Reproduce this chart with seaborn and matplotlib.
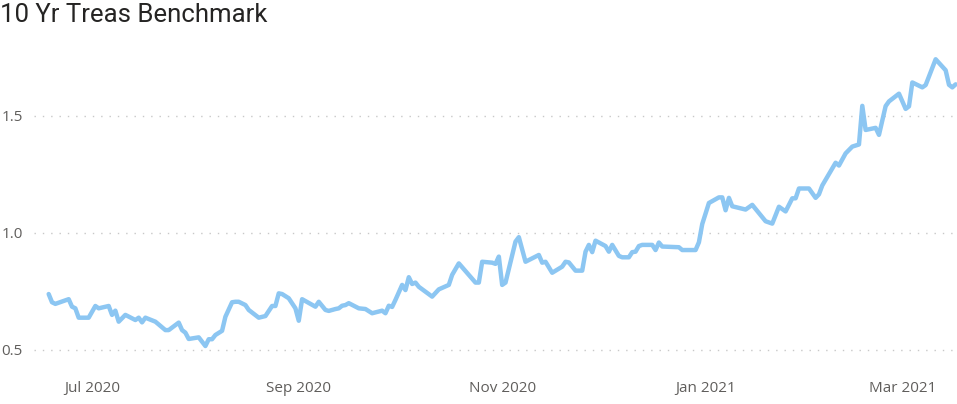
import pandas as pd
import matplotlib
matplotlib.use("Agg")
import matplotlib.pyplot as plt
import seaborn as sns

# Données (rendement du 10 ans, en %)
dates = [
    "2020-06-18", "2020-06-19", "2020-06-20", "2020-06-24", "2020-06-25", "2020-06-26", "2020-06-27", "2020-06-30",
    "2020-07-02", "2020-07-03", "2020-07-06", "2020-07-07", "2020-07-08", "2020-07-09", "2020-07-11", "2020-07-14",
    "2020-07-15", "2020-07-16", "2020-07-17", "2020-07-20", "2020-07-23", "2020-07-24", "2020-07-27", "2020-07-28",
    "2020-07-29", "2020-07-30",
    "2020-08-02", "2020-08-04", "2020-08-05", "2020-08-06", "2020-08-07", "2020-08-09", "2020-08-10", "2020-08-12",
    "2020-08-13", "2020-08-14", "2020-08-16", "2020-08-17", "2020-08-20", "2020-08-22", "2020-08-24", "2020-08-25",
    "2020-08-26", "2020-08-27", "2020-08-29", "2020-08-31",
    "2020-09-01", "2020-09-02", "2020-09-06", "2020-09-07", "2020-09-09", "2020-09-10", "2020-09-12", "2020-09-13",
    "2020-09-14", "2020-09-15", "2020-09-16", "2020-09-19", "2020-09-21", "2020-09-23", "2020-09-26", "2020-09-27",
    "2020-09-28", "2020-09-29", "2020-09-30",
    "2020-10-02", "2020-10-03", "2020-10-04", "2020-10-05", "2020-10-06", "2020-10-07", "2020-10-11", "2020-10-13",
    "2020-10-16", "2020-10-17", "2020-10-19", "2020-10-22", "2020-10-24", "2020-10-25", "2020-10-26", "2020-10-29",
    "2020-10-30", "2020-10-31",
    "2020-11-01", "2020-11-02", "2020-11-05", "2020-11-06", "2020-11-08", "2020-11-12", "2020-11-13", "2020-11-14",
    "2020-11-16", "2020-11-19", "2020-11-20", "2020-11-21", "2020-11-23", "2020-11-25", "2020-11-26", "2020-11-27",
    "2020-11-28", "2020-11-29",
    "2020-12-02", "2020-12-03", "2020-12-04", "2020-12-06", "2020-12-07", "2020-12-09", "2020-12-10", "2020-12-11",
    "2020-12-12", "2020-12-13", "2020-12-16", "2020-12-17", "2020-12-18", "2020-12-19", "2020-12-24", "2020-12-25",
    "2020-12-29", "2020-12-30", "2020-12-31",
    "2021-01-02", "2021-01-05", "2021-01-06", "2021-01-07", "2021-01-08", "2021-01-09", "2021-01-13", "2021-01-15",
    "2021-01-19", "2021-01-21", "2021-01-23", "2021-01-25", "2021-01-27", "2021-01-28", "2021-01-29",
    "2021-02-01", "2021-02-03", "2021-02-04", "2021-02-05", "2021-02-09", "2021-02-10", "2021-02-12", "2021-02-14",
    "2021-02-16", "2021-02-17", "2021-02-18", "2021-02-21", "2021-02-22", "2021-02-24", "2021-02-25", "2021-02-28",
    "2021-03-02", "2021-03-03", "2021-03-04", "2021-03-07", "2021-03-08", "2021-03-11", "2021-03-14", "2021-03-15",
    "2021-03-16", "2021-03-17",
]
rendement = [
    0.739, 0.704, 0.697, 0.717, 0.685, 0.678, 0.638, 0.638,
    0.688, 0.678, 0.688, 0.650, 0.668, 0.621, 0.650, 0.628, 0.638, 0.618, 0.638, 0.621, 0.585, 0.585, 0.617, 0.585,
    0.574, 0.547,
    0.554, 0.517, 0.546, 0.546, 0.564, 0.582, 0.642, 0.704, 0.706, 0.706, 0.692, 0.671, 0.638, 0.645, 0.688, 0.688,
    0.742, 0.739, 0.721, 0.678,
    0.625, 0.717, 0.685, 0.706, 0.671, 0.667, 0.675, 0.678, 0.689, 0.692, 0.700, 0.678, 0.675, 0.657, 0.668, 0.657,
    0.689, 0.684, 0.714,
    0.778, 0.756, 0.811, 0.782, 0.788, 0.770, 0.728, 0.759, 0.778, 0.821, 0.870, 0.821, 0.788, 0.788, 0.877, 0.873,
    0.868, 0.899,
    0.778, 0.788, 0.963, 0.982, 0.877, 0.906, 0.873, 0.877, 0.830, 0.856, 0.877, 0.874, 0.839, 0.839, 0.920, 0.949,
    0.918, 0.967,
    0.944, 0.920, 0.949, 0.902, 0.896, 0.896, 0.918, 0.920, 0.944, 0.949, 0.949, 0.927, 0.959, 0.942, 0.939, 0.927,
    0.927, 0.960, 1.038,
    1.128, 1.152, 1.152, 1.097, 1.150, 1.114, 1.100, 1.120, 1.050, 1.040, 1.112, 1.092, 1.148, 1.148, 1.190,
    1.190, 1.150, 1.165, 1.203, 1.300, 1.288, 1.340, 1.369, 1.378, 1.543, 1.440, 1.449, 1.419, 1.542, 1.562, 1.595,
    1.530, 1.541, 1.643, 1.622, 1.632, 1.742, 1.695, 1.633, 1.622, 1.635,
]
yticks = [0.5, 1.0, 1.5]
ytick_labels = ["0.5", "1.0", "1.5"]
xticks = ["2020-07-01", "2020-09-01", "2020-11-01", "2021-01-01", "2021-03-01"]
xtick_labels = ["Jul 2020", "Sep 2020", "Nov 2020", "Jan 2021", "Mar 2021"]

df = pd.DataFrame({"date": pd.to_datetime(dates), "rendement": rendement})

sns.set_style("white")
plt.rcParams["font.family"] = ["Open Sans", "DejaVu Sans"]

fig = plt.figure(figsize=(9.57, 4.04), dpi=100)
ax = fig.add_axes([34 / 957, 34 / 404, 923 / 957, 325 / 404])

sns.lineplot(data=df, x="date", y="rendement", ax=ax, color="#8CC6F2",
             linewidth=3.2, solid_joinstyle="round", solid_capstyle="round", clip_on=False)

# Axes
debut = pd.Timestamp("2020-07-01")
ax.set_xlim(debut + pd.Timedelta(days=-17.4), debut + pd.Timedelta(days=259.4))
ax.set_ylim(0.4145, 1.803)
ax.set_yticks(yticks)
ax.set_yticklabels(ytick_labels)
ax.set_xticks(pd.to_datetime(xticks))
ax.set_xticklabels(xtick_labels)
ax.set_xlabel("")
ax.set_ylabel("")
ax.tick_params(axis="both", length=0, labelsize=11, colors="#605E5C")
ax.tick_params(axis="y", pad=8)
ax.tick_params(axis="x", pad=8)
ax.grid(axis="y", color="#C8C8C8", linewidth=1, linestyle=(0, (1, 5)))
ax.grid(axis="x", visible=False)
sns.despine(ax=ax, left=True, bottom=True)

fig.text(0.0, 1 - 15 / 404, "10 Yr Treas Benchmark", fontsize=18.5, color="#252423",
         va="center", ha="left", family=["Roboto", "DejaVu Sans"])

fig.savefig("out.png", dpi=100)
